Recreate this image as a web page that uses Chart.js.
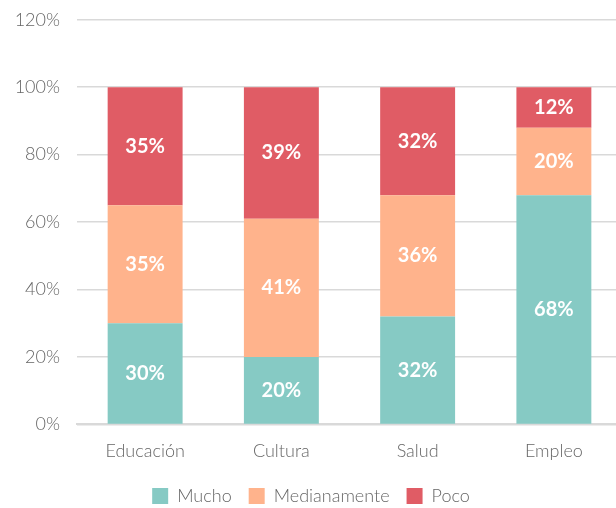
<!DOCTYPE html>
<html>
<head>
<meta charset="utf-8">
<script src="https://cdn.jsdelivr.net/npm/chart.js@4"></script>
<style>
  html, body { margin: 0; padding: 0; background: #fff; overflow: hidden; }
  #wrap { width: 622px; height: 508px; overflow: hidden; }
  #bar-chart { display: block; margin-top: -8px; }
</style>
</head>
<body>
<div id="wrap"><canvas id="bar-chart" width="622" height="516"></canvas></div>
<script>
// Categorías y porcentajes por nivel
const categorias = ['Educación', 'Cultura', 'Salud', 'Empleo'];
const mucho = [30, 20, 32, 68];
const medianamente = [35, 41, 36, 20];
const poco = [35, 39, 32, 12];
const ticksY = [0, 20, 40, 60, 80, 100, 120];

const fuente = 'Lato, "Open Sans", sans-serif';

// Etiquetas blancas dentro de cada segmento
const etiquetas = {
  id: 'etiquetas',
  afterDatasetsDraw(chart) {
    const ctx = chart.ctx;
    ctx.save();
    ctx.fillStyle = '#ffffff';
    ctx.font = 'bold 20px ' + fuente;
    ctx.textAlign = 'center';
    ctx.textBaseline = 'middle';
    chart.data.datasets.forEach((ds, i) => {
      chart.getDatasetMeta(i).data.forEach((bar, j) => {
        const y = (bar.y + bar.base) / 2;
        ctx.fillText(ds.data[j] + '%', bar.x, y);
      });
    });
    ctx.restore();
  }
};

const ctx = document.getElementById('bar-chart').getContext('2d');
new Chart(ctx, {
  type: 'bar',
  data: {
    labels: categorias,
    datasets: [
      { label: 'Mucho', data: mucho, backgroundColor: '#86CAC4' },
      { label: 'Medianamente', data: medianamente, backgroundColor: '#FFB38C' },
      { label: 'Poco', data: poco, backgroundColor: '#E05C65' },
    ],
  },
  options: {
    responsive: false,
    animation: false,
    layout: { padding: { top: 0, bottom: -7 } },
    datasets: { bar: { barPercentage: 0.55, categoryPercentage: 1 } },
    plugins: {
      tooltip: { enabled: false },
      legend: {
        position: 'bottom',
        labels: {
          boxWidth: 16,
          boxHeight: 16,
          padding: 17,
          color: '#666',
          font: { family: fuente, size: 18, weight: 300 },
        },
      },
    },
    scales: {
      x: {
        stacked: true,
        grid: { display: false },
        border: { color: '#d9d9d9', width: 2 },
        ticks: { color: '#666', font: { family: fuente, size: 18, weight: 300 }, padding: 8 },
      },
      y: {
        stacked: true,
        min: 0,
        max: 120,
        afterBuildTicks: (scale) => { scale.ticks = ticksY.map(v => ({ value: v })); },
        afterFit: (scale) => { scale.width = 77; },
        grid: { color: '#d9d9d9', lineWidth: 1.5, drawTicks: false },
        border: { display: false },
        ticks: {
          color: '#666',
          padding: 17,
          font: { family: fuente, size: 18, weight: 300 },
          callback: (v) => v + '%',
        },
      },
    },
  },
  plugins: [etiquetas],
});
</script>
</body>
</html>
